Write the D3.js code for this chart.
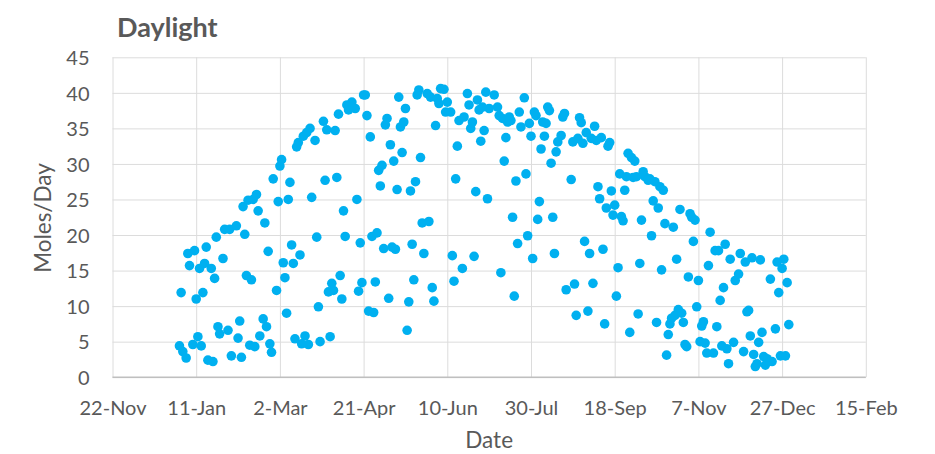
<!DOCTYPE html>
<html>
<head>
<meta charset="utf-8">
<script src="https://cdn.jsdelivr.net/npm/d3@7"></script>
<style>
  html, body { margin: 0; padding: 0; background: #ffffff; }
  svg { display: block; font-family: Lato, "Open Sans", sans-serif; }
</style>
</head>
<body>
<svg id="chart" width="935" height="454"></svg>
<script>
// Daily light integral for 2013: day of year and moles of light per day
const dayOfYear = [
  1,2,3,5,6,7,9,10,11,12,
  13,14,15,16,17,18,20,21,22,23,
  24,25,27,28,30,31,32,35,36,37,
  38,39,40,41,42,43,44,45,46,47,
  48,49,51,52,53,54,55,56,57,59,
  60,61,62,63,64,65,66,67,68,69,
  70,71,72,73,74,75,76,77,78,79,
  80,82,83,84,85,87,88,89,90,91,
  92,93,94,95,96,97,98,99,100,101,
  102,104,106,107,108,109,110,111,112,113,
  114,115,116,117,118,119,120,121,122,123,
  124,125,126,127,128,129,130,131,132,133,
  134,135,136,137,138,139,140,141,142,143,
  144,145,146,147,149,150,151,152,153,154,
  155,156,157,159,160,161,163,164,165,166,
  167,168,170,171,173,174,175,176,177,178,
  179,180,181,182,183,184,185,186,189,191,
  192,193,194,195,196,197,198,199,200,201,
  202,203,204,205,207,208,209,210,211,212,
  213,214,215,216,217,218,219,220,221,222,
  223,224,225,226,227,229,230,231,232,235,
  236,237,238,239,240,241,242,243,244,245,
  246,247,248,249,250,251,252,253,254,255,
  256,257,258,259,260,261,262,263,264,265,
  266,267,268,269,270,271,272,273,274,275,
  276,277,278,279,281,282,283,284,285,286,
  287,288,289,290,291,292,293,294,295,296,
  297,298,299,300,301,302,303,304,305,306,
  307,308,309,310,311,312,313,314,315,316,
  317,318,320,321,322,323,324,325,326,327,
  328,329,330,332,333,335,336,338,339,340,
  341,342,343,344,345,346,347,348,349,350,
  351,352,354,355,357,358,359,360,361,362,
  363,364,365
];

const molesPerDay = [
  4.4,11.9,3.6,2.7,17.4,15.7,4.6,17.8,11.0,5.7,
  15.3,4.4,11.9,16.0,18.3,2.4,15.3,2.2,13.9,19.7,
  7.1,6.1,16.7,20.8,6.6,20.8,3.0,21.3,5.5,7.9,
  2.8,24.0,20.1,14.3,24.9,4.5,13.7,25.0,4.3,25.7,
  23.4,5.8,8.2,21.7,7.1,17.7,4.7,3.5,27.9,12.2,
  24.7,29.7,30.6,16.1,14.0,9.0,25.0,27.4,18.6,16.0,
  5.4,32.4,33.0,17.2,4.7,33.9,5.8,34.4,4.6,35.0,
  25.3,33.3,19.7,9.9,5.0,36.0,27.7,34.8,12.0,5.7,
  13.2,12.2,34.7,28.1,37.0,14.3,11.0,23.4,19.8,38.3,
  37.6,38.7,37.8,25.0,12.1,18.9,13.3,39.7,39.7,36.8,
  9.3,33.8,19.8,9.1,13.4,20.3,29.1,26.9,29.8,18.1,
  35.5,36.4,11.1,32.7,18.3,30.4,18.0,26.4,39.4,35.2,
  31.6,35.9,37.8,6.6,10.6,26.2,18.7,13.7,27.5,39.7,
  40.4,30.9,21.7,17.4,39.9,21.9,39.4,12.6,10.7,35.4,
  39.2,38.5,40.6,40.5,37.3,38.7,37.3,17.1,13.5,27.9,
  32.5,36.1,15.3,36.6,39.9,38.3,35.0,35.9,17.0,26.1,
  39.0,37.6,33.2,38.0,34.7,40.1,25.1,37.8,39.7,38.0,
  36.8,14.7,36.4,30.4,33.7,35.9,36.6,36.1,22.5,11.4,
  27.6,18.8,37.3,35.2,39.3,28.6,19.9,35.7,33.9,16.7,
  37.3,36.8,22.2,24.7,32.1,35.9,33.9,35.7,38.0,37.5,
  30.1,22.5,17.4,31.7,33.1,34.0,36.6,37.1,12.3,27.8,
  33.1,13.1,8.7,33.6,36.5,35.8,32.9,19.1,34.4,9.3,
  17.4,33.6,13.2,35.3,33.3,26.8,25.1,33.7,18.0,7.5,
  23.8,32.5,33.0,26.2,22.8,24.2,11.4,15.4,28.6,22.6,
  22.0,26.3,28.2,31.5,6.3,30.9,28.1,30.4,28.2,8.9,
  16.0,22.1,28.9,28.2,27.7,27.9,19.9,24.8,27.5,7.7,
  23.8,26.8,15.1,26.3,21.6,3.1,6.0,7.5,8.3,21.1,
  8.7,16.6,9.5,23.6,9.0,7.7,4.6,4.3,14.1,23.0,
  22.5,19.1,22.1,9.9,13.6,5.0,7.2,7.8,4.8,3.4,
  15.7,20.4,3.4,17.8,7.1,17.8,10.8,4.4,12.6,18.7,
  4.0,1.9,16.6,4.9,13.6,14.5,17.4,3.6,16.2,9.2,
  9.4,5.8,16.8,3.2,1.5,1.9,4.9,16.5,6.3,2.9,
  1.7,2.6,13.8,2.2,6.8,16.2,11.9,3.0,15.3,16.6,
  3.0,13.3,7.4
];

const dataYear = 2013;
const xTickLabels = ["22-Nov", "11-Jan", "2-Mar", "21-Apr", "10-Jun",
                     "30-Jul", "18-Sep", "7-Nov", "27-Dec", "15-Feb"];
const yTickValues = [0, 5, 10, 15, 20, 25, 30, 35, 40, 45];

const chartTitle = "Daylight";
const xTitle = "Date";
const yTitle = "Moles/Day";

// ---- layout ----
const plot = { left: 112.5, right: 865.8, top: 57.3, bottom: 377.2 };
const textColor = "#595959";
const gridColor = "#dcdcdc";
const axisColor = "#bfbfbf";
const markerColor = "#00b0f0";
const tickFont = "20px";

const svg = d3.select("#chart");

// x ticks every 50 days starting 22 Nov of the previous year
const firstTick = new Date(dataYear - 1, 10, 22);
const xTickDates = xTickLabels.map((_, i) => d3.timeDay.offset(firstTick, i * 50));

const x = d3.scaleTime()
  .domain([xTickDates[0], xTickDates[xTickDates.length - 1]])
  .range([plot.left, plot.right]);

const y = d3.scaleLinear()
  .domain([yTickValues[0], yTickValues[yTickValues.length - 1]])
  .range([plot.bottom, plot.top]);

const points = dayOfYear.map((d, i) => ({
  date: new Date(dataYear, 0, d),
  value: molesPerDay[i]
}));

// horizontal gridlines + y tick labels
const yAxis = svg.append("g")
  .attr("transform", `translate(${plot.left},0)`)
  .call(d3.axisLeft(y)
    .tickValues(yTickValues)
    .tickSize(-(plot.right - plot.left))
    .tickPadding(23)
    .tickFormat(d3.format("d")));
yAxis.select(".domain").remove();
yAxis.selectAll(".tick line").attr("stroke", gridColor).attr("stroke-width", 1);
yAxis.selectAll(".tick text")
  .attr("fill", textColor)
  .attr("font-size", tickFont)
  .attr("font-family", "Lato, 'Open Sans', sans-serif")
  .attr("dy", "0.36em");

// vertical gridlines + x tick labels
const xAxis = svg.append("g")
  .attr("transform", `translate(0,${plot.bottom})`)
  .call(d3.axisBottom(x)
    .tickValues(xTickDates)
    .tickSize(-(plot.bottom - plot.top))
    .tickFormat((d, i) => xTickLabels[i]));
xAxis.select(".domain").remove();
xAxis.selectAll(".tick line").attr("stroke", gridColor).attr("stroke-width", 1);
xAxis.selectAll(".tick text")
  .attr("fill", textColor)
  .attr("font-size", tickFont)
  .attr("font-family", "Lato, 'Open Sans', sans-serif")
  .attr("y", 415 - plot.bottom)
  .attr("dy", null);

// horizontal category axis line
svg.append("line")
  .attr("x1", plot.left).attr("x2", plot.right)
  .attr("y1", y(0)).attr("y2", y(0))
  .attr("stroke", axisColor).attr("stroke-width", 1.5);

// markers
svg.append("g")
  .selectAll("circle")
  .data(points)
  .join("circle")
  .attr("cx", d => x(d.date))
  .attr("cy", d => y(d.value))
  .attr("r", 4.8)
  .attr("fill", markerColor);

// titles
svg.append("text")
  .attr("x", 117).attr("y", 37.3)
  .attr("fill", textColor)
  .attr("font-size", "27px")
  .attr("font-weight", "bold")
  .text(chartTitle);

svg.append("text")
  .attr("x", (plot.left + plot.right) / 2).attr("y", 448)
  .attr("text-anchor", "middle")
  .attr("fill", textColor)
  .attr("font-size", "22.5px")
  .text(xTitle);

svg.append("text")
  .attr("transform", `translate(51,218) rotate(-90)`)
  .attr("text-anchor", "middle")
  .attr("fill", textColor)
  .attr("font-size", "22.5px")
  .text(yTitle);
</script>
</body>
</html>
